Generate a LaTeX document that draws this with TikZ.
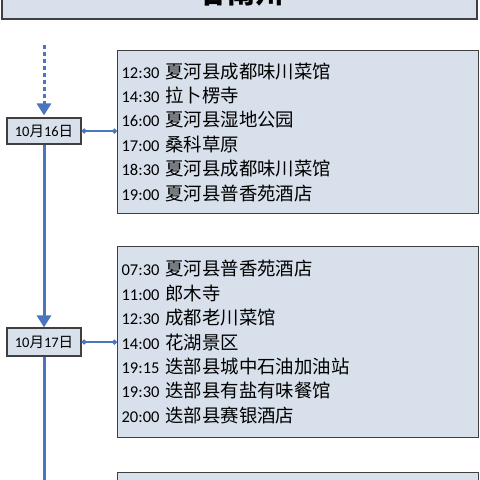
\documentclass[tikz,border=0pt]{standalone}
\usepackage{fontspec}
\setmainfont{Carlito}
\newfontfamily\cjk{Noto Sans CJK SC}
\usetikzlibrary{arrows.meta}
\definecolor{boxfill}{HTML}{D7E0EB}
\definecolor{boxline}{HTML}{404040}
\definecolor{tblue}{HTML}{4A76C0}
\newcommand{\entry}[2]{{\fontsize{16.5}{24.4}\selectfont #1} {\cjk #2}}
\begin{document}
\begin{tikzpicture}[x=1pt,y=-1pt,
  titlebox/.style={draw=boxline, fill=boxfill, line width=2pt},
  plan/.style={draw=boxline, fill=boxfill, line width=1.2pt, inner xsep=4pt, inner ysep=0pt,
    text width=353pt, align=left, font=\fontsize{18.4}{24.4}\selectfont},
  datebox/.style={draw=boxline, fill=boxfill, line width=1.2pt, minimum width=74pt, inner sep=0pt,
    font=\fontsize{14.5}{14.5}\selectfont},
  tline/.style={draw=tblue, line width=3pt},
  tarrow/.style={tline, -{Triangle[width=14pt,length=12pt]}},
  dotarrow/.style={draw=tblue, line width=3pt, dash pattern=on 4pt off 3pt, -{Triangle[width=14pt,length=12pt]}},
  conn/.style={draw=tblue, line width=1.2pt, {Circle[length=5pt]}-{Circle[length=5pt]}}
]
\useasboundingbox (0,0) rectangle (480,480);
\fill[white] (0,0) rectangle (480,480);
% title
\node[titlebox, minimum width=475pt, minimum height=50pt, anchor=south, inner sep=0pt] (title) at (239.5,20) {};
\node[anchor=base, font=\cjk\bfseries\fontsize{28}{28}\selectfont, inner sep=0pt] (ttext) at (241,3) {甘南州};
% boxes
\node[plan, minimum height=163pt, anchor=north west] (b1) at (117,50) {%
\entry{12:30}{夏河县成都味川菜馆}\\
\entry{14:30}{拉卜楞寺}\\
\entry{16:00}{夏河县湿地公园}\\
\entry{17:00}{桑科草原}\\
\entry{18:30}{夏河县成都味川菜馆}\\
\entry{19:00}{夏河县普香苑酒店}};
\node[plan, minimum height=191pt, anchor=north west] (b2) at (117,246) {%
\entry{07:30}{夏河县普香苑酒店}\\
\entry{11:00}{郎木寺}\\
\entry{12:30}{成都老川菜馆}\\
\entry{14:00}{花湖景区}\\
\entry{19:15}{迭部县城中石油加油站}\\
\entry{19:30}{迭部县有盐有味餐馆}\\
\entry{20:00}{迭部县赛银酒店}};
\node[plan, minimum height=40pt, anchor=north west] (b3) at (117,472) {};
% dates
\node[datebox, minimum height=26pt] (d1) at (44,131) {10{\cjk 月}16{\cjk 日}};
\node[datebox, minimum height=28pt] (d2) at (44,342) {10{\cjk 月}17{\cjk 日}};
% timeline
\coordinate (top) at (44,45);
\coordinate (bot) at (44,490);
\draw[dotarrow, shorten >=2pt] (top) -- (d1.north);
\draw[tarrow] (d1.south) -- (d2.north);
\draw[tline] (d2.south) -- (bot);
% connectors
\draw[conn] (d1.east) -- (b1.west |- d1.east);
\draw[conn] (d2.east) -- (b2.west |- d2.east);
\end{tikzpicture}
\end{document}
